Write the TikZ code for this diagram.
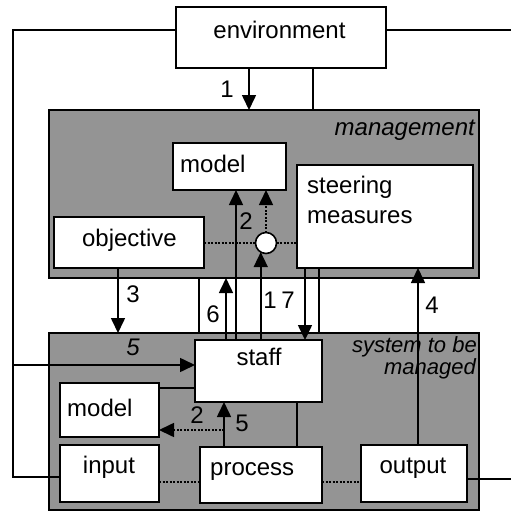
\documentclass[tikz,border=0pt]{standalone}
\usepackage{fontspec}
\setmainfont{Liberation Sans}
\usetikzlibrary{arrows.meta}
\begin{document}
\begin{tikzpicture}[x=1pt,y=-1pt,
 box/.style={draw,line width=2pt,fill=white,inner sep=0pt,outer sep=0pt},
 shadebox/.style={draw,line width=2pt,fill=black!42,inner sep=0pt,outer sep=0pt},
 txt/.style={inner sep=0pt,font=\fontsize{24}{28}\selectfont},
 itxt/.style={inner sep=0pt,font=\fontsize{24}{28}\selectfont\itshape},
 conn/.style={line width=1.6pt},
 tip/.style={-{Triangle[length=15pt,width=14pt]}},
 arr/.style={conn,tip},
 dotl/.style={line width=1.6pt,dash pattern=on 2pt off 1.5pt},
 ]
\useasboundingbox (0,0) rectangle (511,512);
% boxes
\node[box,minimum width=210pt,minimum height=61pt] (env) at (281,37.5) {};
\node[shadebox,minimum width=430pt,minimum height=168pt] (mgmt) at (264,194) {};
\node[shadebox,minimum width=430pt,minimum height=177pt] (sys) at (264,421.5) {};
\node[box,minimum width=113pt,minimum height=47pt] (mmodel) at (229.5,166.5) {};
\node[box,minimum width=176pt,minimum height=103pt] (steer) at (385,216.5) {};
\node[box,minimum width=150pt,minimum height=51pt] (obj) at (129,242.5) {};
\node[draw,circle,line width=1.6pt,fill=white,minimum size=21pt,inner sep=0pt,outer sep=0pt] (circ) at (266,243) {};
\node[box,minimum width=127pt,minimum height=62pt] (staff) at (258.5,371) {};
\node[box,minimum width=99pt,minimum height=54pt] (smodel) at (109.5,410) {};
\node[box,minimum width=99pt,minimum height=57pt] (input) at (109.5,473.5) {};
\node[box,minimum width=122pt,minimum height=56pt] (process) at (261,475) {};
\node[box,minimum width=106pt,minimum height=57pt] (output) at (414,473.5) {};
% helper coordinates
\coordinate (tl) at (13,30);
\coordinate (bl) at (13,477);
\coordinate (rr) at (511,30);
\coordinate (br) at (511,479);
\coordinate (a5) at (13,365);
\coordinate (x118) at (118,0);
\coordinate (x199) at (199,0);
\coordinate (x224) at (224,0);
\coordinate (x226) at (226,0);
\coordinate (x236) at (236,0);
\coordinate (x249) at (249,0);
\coordinate (x297) at (297,0);
\coordinate (x305) at (305,0);
\coordinate (x313) at (313,0);
\coordinate (x319) at (319,0);
\coordinate (x418) at (418,0);
\coordinate (y388) at (0,388);
\coordinate (k2) at (224,430);
\coordinate (y482) at (0,482);
% outer loop
\draw[conn] (env.west |- tl) -- (tl) -- (bl) -- (input.west |- bl);
\draw[conn] (env.east |- rr) -- (rr);
\draw[conn] (output.east |- br) -- (br);
% environment to management
\draw[arr] (env.south -| x249) -- (mgmt.north -| x249);
\draw[conn] (env.south -| x313) -- (mgmt.north -| x313);
% inside management
\draw[dotl] (circ.west -| obj.east) -- (circ.west);
\draw[dotl] (circ.east) -- (circ.east -| steer.west);
\draw[dotl,tip] (circ.north) -- (mmodel.south -| circ.north);
% between management and system
\draw[arr] (obj.south -| x118) -- (sys.north -| x118);
\draw[conn] (mgmt.south -| x199) -- (sys.north -| x199);
\draw[arr] (staff.north -| x226) -- (mgmt.south -| x226);
\draw[arr] (staff.north -| x236) -- (mmodel.south -| x236);
\draw[arr] (staff.north -| circ.240) -- (circ.240);
\draw[arr] (steer.south -| x305) -- (staff.north -| x305);
\draw[conn] (steer.south -| x319) -- (sys.north -| x319);
\draw[arr] (output.north -| x418) -- (steer.south -| x418);
% inside system
\draw[arr] (a5) -- (staff.west |- a5);
\draw[conn] (smodel.east |- y388) -- (staff.west |- y388);
\draw[arr] (process.north -| x224) -- (staff.south -| x224);
\draw[dotl,tip] (k2) -- (smodel.east |- k2);
\draw[conn] (staff.south -| x297) -- (process.north -| x297);
\draw[dotl] (input.east |- y482) -- (process.west |- y482);
\draw[dotl] (process.east |- y482) -- (output.west |- y482);
% texts
\node[txt,anchor=base] (envT) at (279.5,38) {environment};
\node[txt,anchor=base west] (mmodelT) at (180,172) {model};
\node[txt,anchor=base west] (steerT1) at (307,193) {steering};
\node[txt,anchor=base west] (steerT2) at (307,223) {measures};
\node[txt,anchor=base] (objT) at (129.5,246) {objective};
\node[itxt,anchor=base east] (mgmtT) at (475,135) {management};
\node[itxt,anchor=base east,font=\fontsize{22}{26}\selectfont\itshape] (sysT1) at (477,352) {system to be};
\node[itxt,anchor=base east,font=\fontsize{22}{26}\selectfont\itshape] (sysT2) at (476,374) {managed};
\node[txt,anchor=base] (staffT) at (259,365) {staff};
\node[txt,anchor=base west] (smodelT) at (67,416) {model};
\node[txt,anchor=base] (inputT) at (109,473) {input};
\node[txt,anchor=base west] (processT) at (210,475) {process};
\node[txt,anchor=base] (outputT) at (413,473) {output};
% numbers
\node[txt,anchor=base] (n1a) at (227,97) {1};
\node[txt,anchor=base] (n2a) at (246,229) {2};
\node[txt,anchor=base] (n3) at (133,302) {3};
\node[txt,anchor=base] (n6) at (213,322) {6};
\node[txt,anchor=base] (n1b) at (270,308) {1};
\node[txt,anchor=base] (n7) at (288,308) {7};
\node[txt,anchor=base] (n4) at (432,313) {4};
\node[itxt,anchor=base] (n5a) at (133,355) {5};
\node[txt,anchor=base] (n2b) at (197,423) {2};
\node[txt,anchor=base] (n5b) at (242,431) {5};
\end{tikzpicture}
\end{document}
